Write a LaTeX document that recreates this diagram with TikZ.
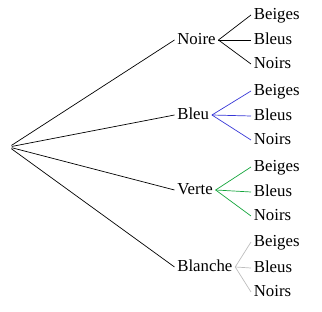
\documentclass[tikz,border=0pt]{standalone}
\usepackage{fontspec}
\setmainfont{Liberation Serif}
\definecolor{bleutrait}{RGB}{55,55,215}
\definecolor{verttrait}{RGB}{20,165,60}
\definecolor{blanctrait}{RGB}{190,190,190}
\begin{document}
\begin{tikzpicture}[x=1pt,y=-1pt,line width=0.7pt,
  choix/.style={anchor=west,inner sep=2.5pt,font=\fontsize{16.8}{20}\selectfont,text height=1.0em,text depth=0.1em},
  feuille/.style={choix}]
\useasboundingbox (0,0) rectangle (322,312);
\node[circle,inner sep=0pt,minimum size=5pt] (racine) at (9,147) {};

% premier niveau
\node[choix] (noire) at (174.5,40) {Noire};
\node[choix] (bleu) at (174.5,115) {Bleu};
\node[choix] (verte) at (174.5,190) {Verte};
\node[choix] (blanche) at (174.5,267) {Blanche};
\draw (racine) -- (noire.west);
\draw (racine) -- (bleu.west);
\draw (racine) -- (verte.west);
\draw (racine) -- (blanche.west);

% Noire
\node[feuille] (noire1) at (251,15) {Beiges};
\node[feuille] (noire2) at (251,40) {Bleus};
\node[feuille] (noire3) at (251,64) {Noirs};
\draw (noire.east) -- (noire1.west);
\draw (noire.east) -- (noire2.west);
\draw (noire.east) -- (noire3.west);

% Bleu
\node[feuille] (bleu1) at (251,91) {Beiges};
\node[feuille] (bleu2) at (251,116) {Bleus};
\node[feuille] (bleu3) at (251,140) {Noirs};
\draw[bleutrait] (bleu.east) -- (bleu1.west);
\draw[bleutrait] (bleu.east) -- (bleu2.west);
\draw[bleutrait] (bleu.east) -- (bleu3.west);

% Verte
\node[feuille] (verte1) at (251,167) {Beiges};
\node[feuille] (verte2) at (251,192) {Bleus};
\node[feuille] (verte3) at (251,216) {Noirs};
\draw[verttrait] (verte.east) -- (verte1.west);
\draw[verttrait] (verte.east) -- (verte2.west);
\draw[verttrait] (verte.east) -- (verte3.west);

% Blanche
\node[feuille] (blanche1) at (251,242) {Beiges};
\node[feuille] (blanche2) at (251,268) {Bleus};
\node[feuille] (blanche3) at (251,292) {Noirs};
\draw[blanctrait] (blanche.east) -- (blanche1.west);
\draw[blanctrait] (blanche.east) -- (blanche2.west);
\draw[blanctrait] (blanche.east) -- (blanche3.west);
\end{tikzpicture}
\end{document}
